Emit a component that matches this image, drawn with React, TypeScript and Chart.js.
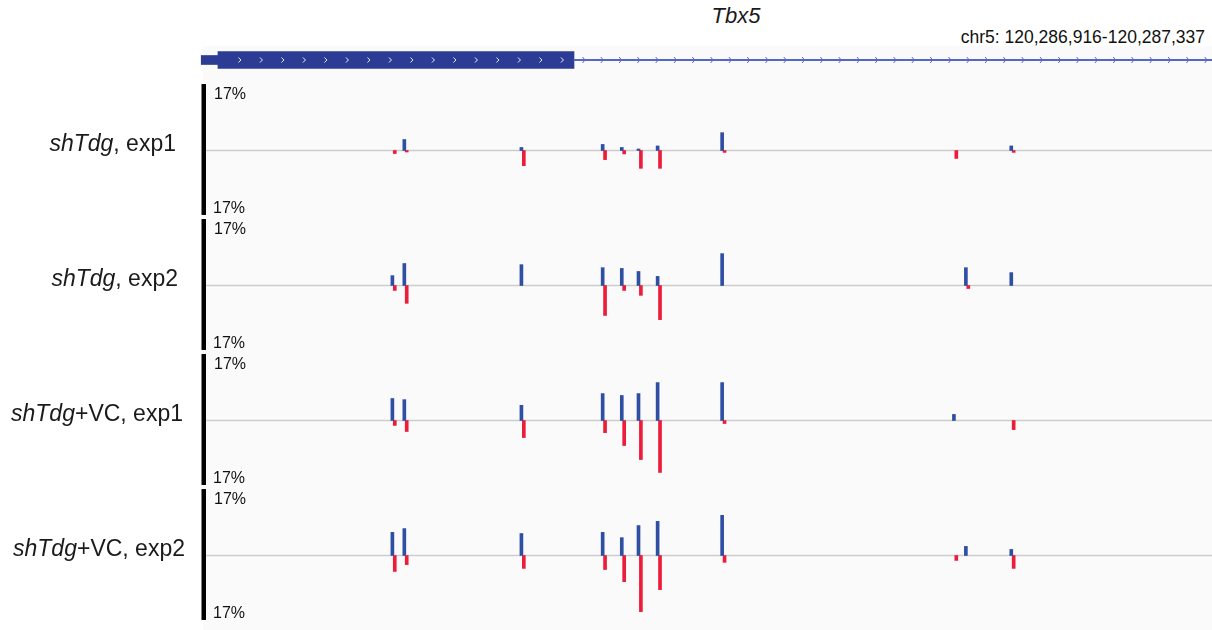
import React, { useEffect, useRef } from 'react';
import { Chart, registerables } from 'chart.js';

Chart.register(...registerables);

const FONT = '"Liberation Sans", Arial, Helvetica, sans-serif';

// ---- data ----
const geneName = 'Tbx5';
const regionLabel = 'chr5: 120,286,916-120,287,337';
const regionStart = 120286916;
const regionEnd = 120287337;
const scaleMax = 17; // % shown on each track

// gene model (bp offsets from regionStart)
const geneUtrStart = -2;
const geneCdsStart = 5;
const geneCdsEnd = 154;
const geneEnd = 421;

// CpG sites (bp offsets); plus-strand C at offset, minus-strand C at offset + 1
const cpgOffsets = [78, 83, 132, 166, 174, 181, 189, 216, 313, 318, 337];

const trackItalic = ['shTdg', 'shTdg', 'shTdg', 'shTdg'];
const trackSuffix = [', exp1', ', exp2', '+VC, exp1', '+VC, exp2'];

const shTdgExp1Plus = [0, 2.9, 0.8, 1.6, 0.8, 0.4, 1.2, 4.7, 0, 0, 1.2];
const shTdgExp1Minus = [0.8, 0.4, 4.0, 2.4, 0.9, 4.7, 4.7, 0.5, 2.1, 0, 0.5];
const shTdgExp2Plus = [2.6, 5.8, 5.5, 4.7, 4.5, 3.7, 2.4, 8.4, 0, 4.7, 3.4];
const shTdgExp2Minus = [1.3, 4.7, 0, 7.9, 1.3, 2.6, 9.0, 0, 0, 0.8, 0];
const vcExp1Plus = [5.8, 5.5, 4.0, 7.1, 6.6, 7.1, 10.0, 10.0, 1.6, 0, 0];
const vcExp1Minus = [1.3, 2.9, 4.5, 3.2, 6.6, 10.3, 13.7, 0.8, 0, 0, 2.4];
const vcExp2Plus = [6.1, 7.1, 5.8, 6.1, 4.7, 7.9, 9.0, 10.6, 0, 2.4, 1.6];
const vcExp2Minus = [4.2, 2.4, 3.4, 3.7, 6.9, 14.8, 9.0, 1.8, 1.3, 0, 3.4];

const plusSeries = [shTdgExp1Plus, shTdgExp2Plus, vcExp1Plus, vcExp2Plus];
const minusSeries = [shTdgExp1Minus, shTdgExp2Minus, vcExp1Minus, vcExp2Minus];

// ---- styles ----
const BLUE = '#2f4fa3';
const RED = '#ec1c3a';
const GENE = '#2c3b94';
const GENE_LINE = '#5567c6';
const W = 1212;
const LEFT = 206;
const TRACK_H = 139;
const trackTops = [81, 216, 351, 486];
const labelRight = [176, 178, 183, 185];

const trackDecor = {
  id: 'trackDecor',
  beforeDatasetsDraw(chart: any) {
    const { ctx, chartArea } = chart;
    const y = chart.scales.y;
    const y0 = y.getPixelForValue(0);
    const yt = y.getPixelForValue(scaleMax);
    const yb = y.getPixelForValue(-scaleMax);
    ctx.save();
    ctx.strokeStyle = '#cdcdcd';
    ctx.lineWidth = 1.5;
    ctx.beginPath();
    ctx.moveTo(chartArea.left, y0);
    ctx.lineTo(chartArea.right, y0);
    ctx.stroke();
    ctx.fillStyle = '#000';
    ctx.fillRect(chartArea.left - 4.5, yt - 2, 4.5, yb - yt + 2);
    ctx.fillStyle = '#111';
    ctx.font = '16px ' + FONT;
    ctx.textBaseline = 'alphabetic';
    ctx.textAlign = 'left';
    ctx.fillText(scaleMax + '%', chartArea.left + 8, yt + 13);
    ctx.fillText(scaleMax + '%', chartArea.left + 7, yb - 2);
    ctx.restore();
  },
};

const geneChevrons = {
  id: 'geneChevrons',
  afterDatasetsDraw(chart: any) {
    const { ctx, chartArea } = chart;
    const x = chart.scales.x;
    const cy = chart.scales.y.getPixelForValue(0);
    const cdsL = x.getPixelForValue(geneCdsStart);
    const cdsR = x.getPixelForValue(geneCdsEnd);
    ctx.save();
    ctx.lineWidth = 1;
    ctx.strokeStyle = 'rgba(255,255,255,0.9)';
    for (let px = cdsL + 22; px < cdsR - 6; px += 21.5) {
      ctx.beginPath();
      ctx.moveTo(px - 1.5, cy - 2.5);
      ctx.lineTo(px + 1, cy);
      ctx.lineTo(px - 1.5, cy + 2.5);
      ctx.stroke();
    }
    ctx.strokeStyle = GENE_LINE;
    for (let px = cdsR + 10; px < chartArea.right; px += 18.3) {
      ctx.beginPath();
      ctx.moveTo(px - 1.5, cy - 3);
      ctx.lineTo(px + 1, cy);
      ctx.lineTo(px - 1.5, cy + 3);
      ctx.stroke();
    }
    ctx.restore();
  },
};

function TrackChart({ plus, minus, top }: { plus: number[]; minus: number[]; top: number }) {
  const ref = useRef<HTMLCanvasElement>(null);
  useEffect(() => {
    const chart = new Chart(ref.current as HTMLCanvasElement, {
      type: 'bar',
      data: {
        datasets: [
          {
            label: 'plus strand',
            data: cpgOffsets.map((p, i) => ({ x: p, y: plus[i] ? plus[i] : null })),
            backgroundColor: BLUE,
            barThickness: 3,
            grouped: false,
          } as any,
          {
            label: 'minus strand',
            data: cpgOffsets.map((p, i) => ({ x: p + 1, y: minus[i] ? -minus[i] : null })),
            backgroundColor: RED,
            barThickness: 3,
            grouped: false,
          } as any,
        ],
      },
      options: {
        animation: false,
        responsive: false,
        maintainAspectRatio: false,
        layout: { padding: { left: LEFT, right: 0, top: 2, bottom: 2 } },
        plugins: { legend: { display: false }, tooltip: { enabled: false } },
        scales: {
          x: { type: 'linear', min: 0, max: regionEnd - regionStart, display: false, offset: false },
          y: { min: -17.8, max: 17.8, display: false },
        },
      },
      plugins: [trackDecor],
    });
    return () => chart.destroy();
  }, [plus, minus]);
  return (
    <canvas
      ref={ref}
      width={W}
      height={TRACK_H}
      style={{ position: 'absolute', left: 0, top, width: W, height: TRACK_H }}
    />
  );
}

function GeneChart() {
  const ref = useRef<HTMLCanvasElement>(null);
  useEffect(() => {
    const chart = new Chart(ref.current as HTMLCanvasElement, {
      type: 'bar',
      data: {
        labels: [geneName],
        datasets: [
          { label: 'intron', data: [[geneCdsEnd, geneEnd]], backgroundColor: GENE_LINE, barThickness: 1.5, grouped: false, clip: false } as any,
          { label: 'utr', data: [[geneUtrStart, geneCdsStart]], backgroundColor: GENE, barThickness: 9, grouped: false, clip: false } as any,
          { label: 'cds', data: [[geneCdsStart, geneCdsEnd]], backgroundColor: GENE, barThickness: 17, grouped: false, clip: false } as any,
        ],
      },
      options: {
        indexAxis: 'y',
        animation: false,
        responsive: false,
        maintainAspectRatio: false,
        layout: { padding: { left: LEFT, right: 0, top: 0, bottom: 0 } },
        plugins: { legend: { display: false }, tooltip: { enabled: false } },
        scales: {
          x: { type: 'linear', min: 0, max: regionEnd - regionStart, display: false },
          y: { type: 'category', display: false },
        },
      },
      plugins: [geneChevrons],
    });
    return () => chart.destroy();
  }, []);
  return (
    <canvas
      ref={ref}
      width={W}
      height={40}
      style={{ position: 'absolute', left: 0, top: 40, width: W, height: 40 }}
    />
  );
}

export default function App() {
  return (
    <div
      style={{
        position: 'absolute',
        left: 0,
        top: 0,
        width: W,
        height: 630,
        overflow: 'hidden',
        background: '#fff',
        fontFamily: FONT,
        color: '#1a1a1a',
      }}
    >
      <div style={{ position: 'absolute', left: 203, top: 46, width: W - 203, height: 584, background: '#fafafa' }} />
      <div
        style={{
          position: 'absolute',
          left: 636,
          width: 200,
          top: 3,
          textAlign: 'center',
          fontSize: 22,
          lineHeight: '26px',
          fontStyle: 'italic',
        }}
      >
        {geneName}
      </div>
      <div
        style={{
          position: 'absolute',
          right: 7,
          top: 27,
          fontSize: 17.5,
          lineHeight: '20px',
          whiteSpace: 'nowrap',
          color: '#111',
        }}
      >
        {regionLabel}
      </div>
      <GeneChart />
      {plusSeries.map((p, i) => (
        <TrackChart key={i} plus={p} minus={minusSeries[i]} top={trackTops[i]} />
      ))}
      {trackSuffix.map((s, i) => (
        <div
          key={'l' + i}
          style={{
            position: 'absolute',
            left: 0,
            width: labelRight[i],
            top: trackTops[i] + 70.5 - 21.3,
            textAlign: 'right',
            fontSize: 23,
            lineHeight: '26px',
            whiteSpace: 'nowrap',
          }}
        >
          <i>{trackItalic[i]}</i>
          {s}
        </div>
      ))}
    </div>
  );
}
